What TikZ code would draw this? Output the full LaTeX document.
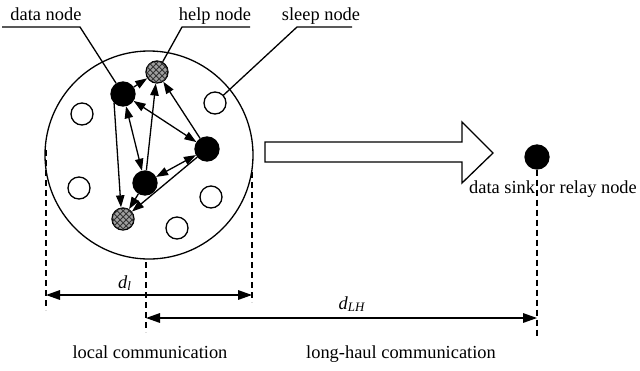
\documentclass[tikz,border=0pt]{standalone}
\usepackage{fontspec}
\setmainfont{Liberation Serif}
\usetikzlibrary{arrows.meta,patterns}

\tikzset{
  datanode/.style={shape=circle,draw=black,fill=black,minimum size=12pt,inner sep=0pt},
  helpnode/.style={shape=circle,draw=black,fill=gray!75,minimum size=11pt,inner sep=0pt,
    postaction={pattern=crosshatch,pattern color=black!80}},
  sleepnode/.style={shape=circle,draw=black,fill=white,minimum size=11pt,inner sep=0pt},
  link/.style={-{Triangle[length=6pt,width=4.2pt]}},
  duplex/.style={{Triangle[length=6pt,width=4.2pt]}-{Triangle[length=6pt,width=4.2pt]}},
  dimline/.style={{Triangle[length=7pt,width=4.8pt]}-{Triangle[length=7pt,width=4.8pt]}},
  guide/.style={dash pattern=on 3pt off 2pt},
  label/.style={font=\fontsize{9.2}{11}\selectfont,inner sep=0pt}
}

\begin{document}
\begin{tikzpicture}[x=0.5pt,y=-0.5pt,line width=0.65pt]
    \useasboundingbox (0,0) rectangle (640,370);

    % cluster
    \node[shape=circle,draw=black,minimum size=104pt,inner sep=0pt] (cluster) at (149,155) {};

    \node[sleepnode] (S1) at (215,103) {};
    \node[sleepnode] (S2) at (82,114) {};
    \node[sleepnode] (S3) at (79,188) {};
    \node[sleepnode] (S4) at (211,197) {};
    \node[sleepnode] (S5) at (177,228) {};

    \node[datanode] (D1) at (123,94) {};
    \node[datanode] (D2) at (207,149) {};
    \node[datanode] (D3) at (145,183) {};
    \node[helpnode] (H1) at (157,72) {};
    \node[helpnode] (H2) at (123,219) {};

    \path[link] (D1) edge (H1);
    \path[link] (D3) edge (H1);
    \path[link] (D2) edge (H1);
    \path[duplex] (D1) edge (D2);
    \path[duplex] (D1) edge (D3);
    \path[duplex] (D2) edge (D3);
    \path[link] (D1.south west) edge ([xshift=-1pt]H2.north);
    \path[link] (D3) edge (H2);
    \path[link] (D2) edge (H2);

    % labels on top
    \node[label,anchor=base] (datalbl) at (46,20) {data node};
    \node[label,anchor=base] (helplbl) at (215,20) {help node};
    \node[label,anchor=base] (sleeplbl) at (321,20) {sleep node};
    \coordinate (dataL) at (2,27);
    \coordinate (dataR) at (80,27);
    \coordinate (helpL) at (182,27);
    \coordinate (helpR) at (250,27);
    \coordinate (sleepL) at (297,27);
    \coordinate (sleepR) at (352,27);
    \draw (dataL) -- (dataR) -- (D1);
    \draw (helpR) -- (helpL) -- (H1);
    \draw (sleepR) -- (sleepL) -- (S1);

    % long-haul arrow and sink
    \draw (265,142) -- (462,142) -- (462,122) -- (493,153) -- (462,183) -- (462,162) -- (265,162) -- cycle;
    \node[datanode] (sink) at (537,157) {};

    % guide lines
    \coordinate (leftT) at (46,150);
    \coordinate (leftB) at (46,310);
    \coordinate (rightT) at (252,172);
    \coordinate (rightB) at (252,302);
    \coordinate (midT) at (146,262);
    \coordinate (midB) at (146,332);
    \coordinate (sinkB) at (537,336);
    \draw[guide] (leftT) -- (leftB);
    \draw[guide] (rightT) -- (rightB);
    \draw[guide] (midT) -- (midB);
    \draw[guide] (sink) -- (sinkB);
    \node[label,anchor=base] (sinklbl) at (553,193) {data sink or relay node};

    % distances
    \coordinate (dlA) at (46,295);
    \coordinate (dlB) at (252,295);
    \coordinate (dhA) at (146,318);
    \coordinate (dhB) at (537,318);
    \draw[dimline] (dlA) -- (dlB);
    \draw[dimline] (dhA) -- (dhB);
    \node[label] (dllbl) at (125,283) {\itshape d\textsubscript{l}};
    \node[label] (dhlbl) at (352,304) {\itshape d\textsubscript{LH}};

    \node[label,anchor=base] (locallbl) at (150,358) {local communication};
    \node[label,anchor=base] (haullbl) at (401,358) {long-haul communication};
\end{tikzpicture}
\end{document}
